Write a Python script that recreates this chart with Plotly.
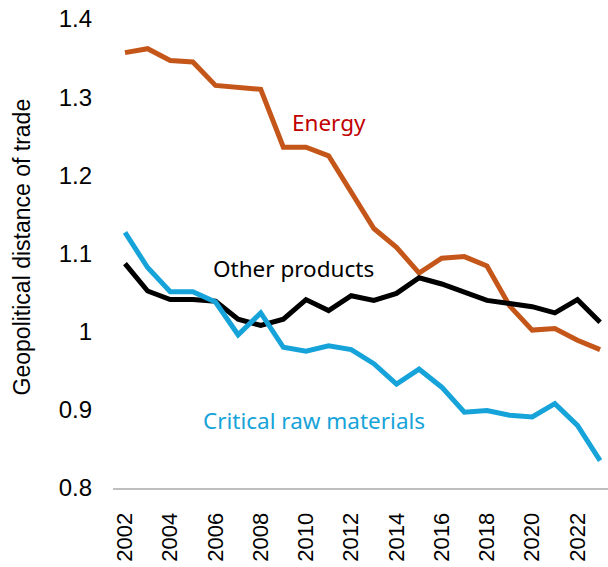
import plotly.graph_objects as go

years = list(range(2002, 2024))
energy = [1.357, 1.362, 1.347, 1.345, 1.315, 1.313, 1.310, 1.236, 1.236, 1.225, 1.178,
          1.132, 1.108, 1.075, 1.094, 1.096, 1.084, 1.033, 1.002, 1.004, 0.989, 0.977]
other = [1.087, 1.052, 1.041, 1.041, 1.039, 1.016, 1.008, 1.016, 1.041, 1.027, 1.046,
         1.040, 1.049, 1.069, 1.061, 1.050, 1.040, 1.036, 1.032, 1.024, 1.041, 1.012]
critical = [1.127, 1.082, 1.051, 1.051, 1.038, 0.996, 1.024, 0.980, 0.975, 0.982, 0.977,
            0.959, 0.933, 0.952, 0.929, 0.897, 0.899, 0.893, 0.891, 0.908, 0.880, 0.835]
y_ticks = [0.8, 0.9, 1.0, 1.1, 1.2, 1.3, 1.4]
y_tick_text = ["0.8", "0.9", "1", "1.1", "1.2", "1.3", "1.4"]
x_ticks = list(range(2002, 2024, 2))
y_title = "Geopolitical distance of trade"

fig = go.Figure()
fig.add_trace(go.Scatter(x=years, y=energy, mode="lines", name="Energy",
                         line=dict(color="#C5561A", width=5)))
fig.add_trace(go.Scatter(x=years, y=other, mode="lines", name="Other products",
                         line=dict(color="#000000", width=5)))
fig.add_trace(go.Scatter(x=years, y=critical, mode="lines", name="Critical raw materials",
                         line=dict(color="#16A3D9", width=5)))

ann_font = "Noto Sans, Open Sans, sans-serif"
fig.add_annotation(x=2011.0, y=1.268, text="Energy", showarrow=False,
                   font=dict(family=ann_font, size=22.5, color="#C00000"))
fig.add_annotation(x=2009.45, y=1.081, text="Other products", showarrow=False,
                   font=dict(family=ann_font, size=22.5, color="#000000"))
fig.add_annotation(x=2010.35, y=0.887, text="Critical raw materials", showarrow=False,
                   font=dict(family=ann_font, size=22.5, color="#16A3D9"))
fig.add_annotation(xref="paper", yref="paper", x=-0.1838, y=0.513, text=y_title,
                   textangle=-90, showarrow=False, xanchor="center", yanchor="middle",
                   font=dict(family="Liberation Sans, Arial, sans-serif", size=23, color="#000000"))

fig.update_layout(
    width=608, height=567,
    margin=dict(l=113, r=0, t=19, b=79),
    plot_bgcolor="white", paper_bgcolor="white",
    showlegend=False,
    font=dict(family="Liberation Sans, Arial, sans-serif", size=24, color="#000000"),
)
fig.update_xaxes(range=[2001.47, 2023.35], tickmode="array", tickvals=x_ticks,
                 ticktext=[str(t) for t in x_ticks], tickangle=-90,
                 showgrid=False, zeroline=False, showline=True, linecolor="#BFBFBF",
                 linewidth=2, ticks="", tickfont=dict(size=22), automargin=False,
                 ticklabelstandoff=14)
fig.update_yaxes(range=[0.8, 1.4], tickmode="array", tickvals=y_ticks, ticktext=y_tick_text,
                 showgrid=False, zeroline=False, showline=False, ticks="",
                 tickfont=dict(size=24), automargin=False, ticklabelstandoff=20)

fig.write_html("out.html", config={"displayModeBar": False},
               post_script="document.body.style.margin='0';")
